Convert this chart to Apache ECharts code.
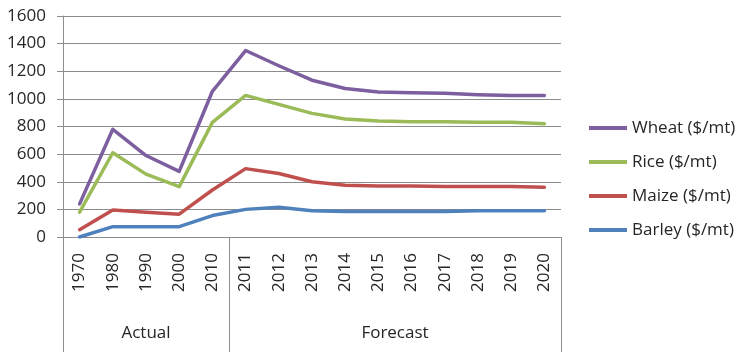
<!DOCTYPE html>
<html>
<head>
<meta charset="utf-8">
<script src="https://cdn.jsdelivr.net/npm/echarts@6/dist/echarts.min.js"></script>
<style>
  html, body { margin: 0; padding: 0; background: #fff; }
  #chart { width: 736px; height: 352px; }
</style>
</head>
<body>
<div id="chart"></div>
<script>
// Years: observed decades followed by annual forecasts
const actualYears = ['1970', '1980', '1990', '2000', '2010'];
const forecastYears = ['2011', '2012', '2013', '2014', '2015', '2016', '2017', '2018', '2019', '2020'];
const years = actualYears.concat(forecastYears);
const groupNames = ['Actual', 'Forecast'];

// Prices in $/mt
const wheat  = [240, 780, 590, 475, 1055, 1350, 1240, 1135, 1075, 1050, 1045, 1040, 1030, 1025, 1025];
const rice   = [180, 610, 455, 365, 830, 1025, 960, 895, 855, 840, 835, 835, 830, 830, 820];
const maize  = [53, 195, 180, 165, 340, 495, 460, 400, 375, 370, 370, 365, 365, 365, 360];
const barley = [0, 75, 75, 75, 155, 200, 215, 190, 185, 185, 185, 185, 190, 190, 190];

const yTicks = { min: 0, max: 1600, step: 200 };

const FONT = 'Open Sans';
const FS = 17;
const TEXT = '#262626';
const GRID = '#8c8c8c';

// group boundaries on a 0..n scale for the second-level axis
const nA = actualYears.length, nAll = years.length;
const groupTicks = [0, nA, nAll];
const groupCenters = [nA / 2, (nA + nAll) / 2];

const chart = echarts.init(document.getElementById('chart'));
function line(name, data, color) {
  return {
    name, type: 'line', data, xAxisIndex: 0,
    symbol: 'none', lineStyle: { color, width: 3.5, cap: 'round', join: 'round' },
    itemStyle: { color }
  };
}

chart.setOption({
  animation: false,
  textStyle: { fontFamily: FONT },
  grid: { left: 63, right: 175, top: 16, bottom: 115 },
  legend: {
    orient: 'vertical', left: 589, top: 118, padding: 0,
    icon: 'rect', itemWidth: 38, itemHeight: 4, itemGap: 14,
    textStyle: { fontFamily: FONT, fontSize: FS, color: TEXT, lineHeight: 20 },
    data: ['Wheat ($/mt)', 'Rice ($/mt)', 'Maize ($/mt)', 'Barley ($/mt)']
  },
  xAxis: [
    {
      type: 'category', data: years, boundaryGap: true, position: 'bottom',
      axisLine: { lineStyle: { color: GRID, width: 1 } },
      axisTick: { length: 66, lineStyle: { color: GRID } },
      axisLabel: { rotate: 90, margin: 16, fontSize: FS, color: TEXT, fontFamily: FONT, interval: 0 },
      splitLine: { show: false }
    },
    {
      type: 'value', min: 0, max: nAll, position: 'bottom',
      axisLine: { show: false },
      axisTick: { show: true, customValues: groupTicks, length: 115, lineStyle: { color: GRID } },
      axisLabel: {
        customValues: groupCenters, margin: 88, fontSize: FS, color: TEXT, fontFamily: FONT,
        formatter: v => groupNames[groupCenters.indexOf(v)]
      },
      splitLine: { show: false }
    }
  ],
  yAxis: {
    type: 'value', min: yTicks.min, max: yTicks.max, interval: yTicks.step,
    axisLine: { show: true, lineStyle: { color: GRID } },
    axisTick: { show: true, length: 6, lineStyle: { color: GRID } },
    axisLabel: { margin: 17, fontSize: FS, color: TEXT, fontFamily: FONT, formatter: v => String(v) },
    splitLine: { lineStyle: { color: GRID, width: 1 } }
  },
  series: [
    line('Wheat ($/mt)', wheat, '#7d5fa0'),
    line('Rice ($/mt)', rice, '#9bbb59'),
    line('Maize ($/mt)', maize, '#c0504d'),
    line('Barley ($/mt)', barley, '#4f81bd')
  ]
});
</script>
</body>
</html>
